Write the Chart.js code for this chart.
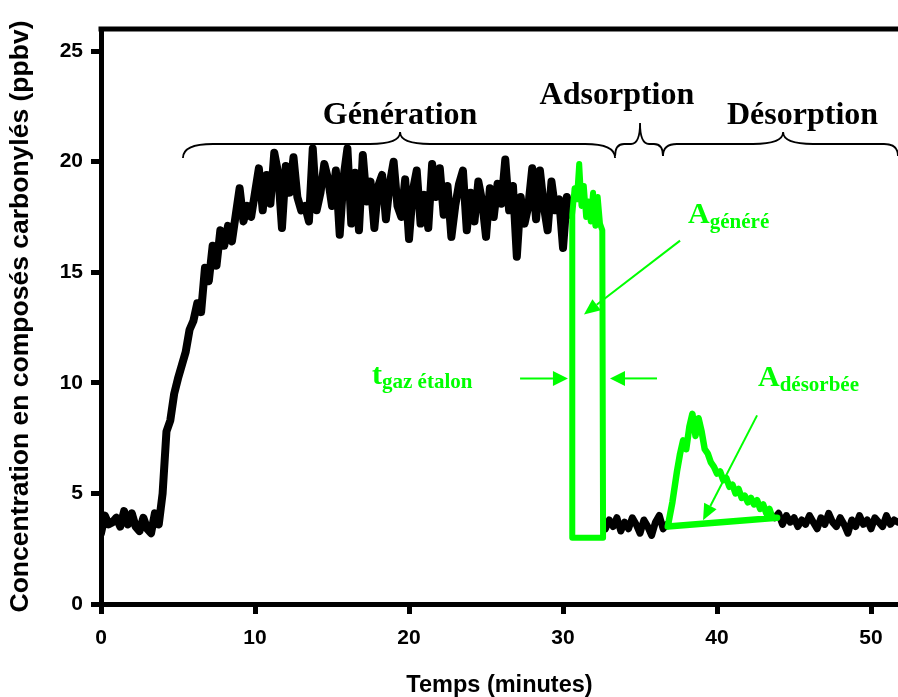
<!DOCTYPE html>
<html><head><meta charset="utf-8">
<script src="https://cdn.jsdelivr.net/npm/chart.js@4.4.1/dist/chart.umd.min.js"></script>
<style>html,body{margin:0;padding:0;background:#fff;overflow:hidden}</style>
</head><body>
<canvas id="c" width="898" height="697"></canvas>
<script>
// ---- data ----
const xTickValues = [0, 10, 20, 30, 40, 50];
const yTickValues = [0, 5, 10, 15, 20, 25];
const phaseNames = ['Génération', 'Adsorption', 'Désorption'];

// black trace, generation phase
const genTimes = [0,0.25,0.5,0.75,1,1.25,1.5,1.75,2,2.25,2.5,2.75,3,3.25,3.5,3.75,4,4.25,4.5,4.75,5,5.25,5.5,5.75,6,6.25,6.5,6.75,7,7.25,7.5,7.75,8,8.25,8.5,8.75,9,9.25,9.5,9.75,10,10.25,10.5,10.75,11,11.25,11.5,11.75,12,12.25,12.5,12.75,13,13.25,13.5,13.75,14,14.25,14.5,14.75,15,15.25,15.5,15.75,16,16.25,16.5,16.75,17,17.25,17.5,17.75,18,18.25,18.5,18.75,19,19.25,19.5,19.75,20,20.25,20.5,20.75,21,21.25,21.5,21.75,22,22.25,22.5,22.75,23,23.25,23.5,23.75,24,24.25,24.5,24.75,25,25.25,25.5,25.75,26,26.25,26.5,26.75,27,27.25,27.5,27.75,28,28.25,28.5,28.75,29,29.25,29.5,29.75,30,30.25,30.5];
const genValues = [3.2,4.0,3.6,3.7,3.9,3.5,4.2,3.6,4.1,3.5,3.3,3.9,3.4,3.2,4.1,3.6,5.0,7.8,8.3,9.5,10.2,10.8,11.4,12.4,12.8,13.6,13.2,15.2,14.6,16.2,15.3,16.9,16.2,17.1,16.4,17.6,18.8,17.3,18.0,17.5,18.6,19.7,17.8,19.4,18.1,20.4,19.5,17.0,19.8,18.6,20.2,18.4,17.8,18.0,17.3,20.6,17.8,18.6,19.9,19.2,18.0,19.6,16.7,19.3,20.6,17.2,19.5,16.9,20.3,18.2,19.1,17.0,18.9,19.4,17.4,19.0,20.0,18.0,17.5,19.2,16.5,18.7,19.6,17.2,18.5,17.0,19.9,18.4,19.7,17.6,18.9,16.6,18.0,19.0,19.6,16.9,18.6,17.3,19.1,18.2,16.6,18.8,17.5,19.0,18.1,20.1,17.8,18.9,15.7,18.4,17.2,18.0,19.7,17.4,19.6,18.0,16.9,19.1,17.8,18.3,16.1,18.4,17.6];

// black trace, between adsorption and desorption
const midTimes = [32.75,33,33.25,33.5,33.75,34,34.25,34.5,34.75,35,35.25,35.5,35.75,36,36.25,36.5,36.75];
const midValues = [3.4,3.8,3.5,3.9,3.3,3.7,3.4,3.9,3.6,3.2,3.8,3.5,3.1,3.7,4.0,3.4,3.6];

// black trace, after desorption
const endTimes = [43.75,44,44.25,44.5,44.75,45,45.25,45.5,45.75,46,46.25,46.5,46.75,47,47.25,47.5,47.75,48,48.25,48.5,48.75,49,49.25,49.5,49.75,50,50.25,50.5,50.75,51,51.25,51.5,51.75];
const endValues = [3.9,4.1,3.6,4.0,3.7,3.9,3.5,3.8,3.6,4.0,3.7,3.4,3.9,3.6,4.1,3.7,3.5,3.9,3.6,3.2,3.8,3.5,4.0,3.6,3.8,3.4,3.9,3.7,3.5,4.0,3.6,3.8,3.7];

// green: generated area (closed outline)
const genAreaTimes = [30.6,30.6,32.6,32.55,32.4,32.25,32.1,31.95,31.8,31.65,31.5,31.35,31.2,31.05,30.9,30.75,30.6];
const genAreaValues = [17.6,3.0,3.0,16.9,17.2,18.4,17.1,18.6,17.3,18.2,17.5,18.9,18.0,19.9,18.3,18.8,17.6];

// green: desorbed area (closed outline)
const desAreaTimes = [36.8,37.1,37.4,37.6,37.8,38.0,38.2,38.4,38.6,38.8,39.0,39.2,39.4,39.6,39.8,40.0,40.2,40.4,40.6,40.8,41.0,41.2,41.4,41.6,41.8,42.0,42.2,42.4,42.6,42.8,43.0,43.2,43.4,43.6,43.9,36.8];
const desAreaValues = [3.5,4.6,6.0,6.8,7.4,7.0,8.0,8.6,7.6,8.4,7.8,7.0,6.8,6.4,6.2,5.9,6.0,5.6,5.7,5.3,5.4,5.0,5.2,4.8,4.9,4.6,4.8,4.5,4.7,4.3,4.5,4.1,4.3,3.9,3.9,3.5];

const zip = (t, v) => t.map((x, i) => ({x: x, y: v[i]}));
const GREEN = 'rgb(0,255,0)';
const SERIF = '"Liberation Serif", "Times New Roman", serif';

function drawBrace(ctx, x1, x2, xm, yH, yEnd, yTip, r, rt) {
  ctx.beginPath();
  ctx.moveTo(x1, yEnd);
  ctx.quadraticCurveTo(x1, yH, x1 + r, yH);
  ctx.lineTo(xm - rt, yH);
  ctx.quadraticCurveTo(xm, yH, xm, yTip);
  ctx.quadraticCurveTo(xm, yH, xm + rt, yH);
  ctx.lineTo(x2 - r, yH);
  ctx.quadraticCurveTo(x2, yH, x2, yEnd);
  ctx.stroke();
}
function drawArrow(ctx, x1, y1, x2, y2, head, hw) {
  const a = Math.atan2(y2 - y1, x2 - x1), c = Math.cos(a), s = Math.sin(a);
  const bx = x2 - head * c, by = y2 - head * s;
  ctx.beginPath(); ctx.moveTo(x1, y1); ctx.lineTo(bx, by); ctx.stroke();
  ctx.beginPath(); ctx.moveTo(x2, y2);
  ctx.lineTo(bx + hw * s, by - hw * c);
  ctx.lineTo(bx - hw * s, by + hw * c);
  ctx.closePath(); ctx.fill();
}
function subLabel(ctx, px, py, main, sub, dy) {
  ctx.textAlign = 'left'; ctx.textBaseline = 'alphabetic';
  ctx.font = 'bold 30px ' + SERIF;
  ctx.fillText(main, px, py);
  const w = ctx.measureText(main).width;
  ctx.font = 'bold 21px ' + SERIF;
  ctx.fillText(sub, px + w, py + dy);
}

const overlay = {
  id: 'overlay',
  afterDraw(chart) {
    const {ctx, chartArea: a, scales: {x, y}} = chart;
    const X = v => x.getPixelForValue(v), Y = v => y.getPixelForValue(v);
    ctx.save();
    // top frame line
    ctx.strokeStyle = '#000'; ctx.lineWidth = 5;
    ctx.beginPath(); ctx.moveTo(a.left - 2.5, a.top); ctx.lineTo(a.right + 5, a.top); ctx.stroke();

    // braces
    ctx.lineWidth = 1.8;
    drawBrace(ctx, X(5.32), X(33.38), X(19.42), Y(20.8), Y(20.17), Y(21.34), 30, 30);
    drawBrace(ctx, X(33.38), X(36.49), X(35.0), Y(20.8), Y(20.26), Y(21.75), 9, 9);
    drawBrace(ctx, X(36.49), X(51.75), X(44.29), Y(20.8), Y(20.26), Y(21.34), 14, 30);

    // phase labels
    ctx.fillStyle = '#000';
    ctx.font = 'bold 32px ' + SERIF;
    ctx.textAlign = 'center'; ctx.textBaseline = 'alphabetic';
    ctx.fillText(phaseNames[0], X(19.42), Y(21.7));
    ctx.fillText(phaseNames[1], X(33.5), Y(22.62));
    ctx.fillText(phaseNames[2], X(45.55), Y(21.7));

    // green annotations
    ctx.fillStyle = GREEN; ctx.strokeStyle = GREEN; ctx.lineWidth = 2;
    drawArrow(ctx, X(37.6), Y(16.43), X(31.36), Y(13.09), 16, 7);
    drawArrow(ctx, X(42.6), Y(8.53), X(39.09), Y(3.79), 16, 7);
    drawArrow(ctx, X(27.21), Y(10.2), X(30.32), Y(10.2), 15, 7.5);
    drawArrow(ctx, X(36.1), Y(10.2), X(33.05), Y(10.2), 15, 7.5);

    subLabel(ctx, X(38.12), Y(17.24), 'A', 'généré', 5);
    subLabel(ctx, X(42.66), Y(9.88), 'A', 'désorbée', 5);
    subLabel(ctx, X(17.6), Y(9.97), 't', 'gaz étalon', 4);
    ctx.restore();
  }
};

Chart.defaults.font.family = '"Liberation Sans", Arial, sans-serif';
Chart.defaults.color = '#000';

new Chart(document.getElementById('c'), {
  type: 'scatter',
  data: {
    datasets: [
      {data: zip(genAreaTimes, genAreaValues), borderColor: GREEN, borderWidth: 6, order: 0},
      {data: zip(desAreaTimes, desAreaValues), borderColor: GREEN, borderWidth: 6.5, order: 0},
      {data: zip(genTimes, genValues), borderColor: '#000', borderWidth: 8, order: 1},
      {data: zip(midTimes, midValues), borderColor: '#000', borderWidth: 7, order: 1},
      {data: zip(endTimes, endValues), borderColor: '#000', borderWidth: 7, order: 1}
    ].map(d => Object.assign({showLine: true, pointRadius: 0, pointHoverRadius: 0, fill: false,
                              borderJoinStyle: 'round', borderCapStyle: 'round', tension: 0}, d))
  },
  options: {
    responsive: false,
    animation: false,
    events: [],
    layout: {padding: {top: 29, right: 0, left: 0, bottom: 0}},
    plugins: {legend: {display: false}, tooltip: {enabled: false}},
    scales: {
      x: {
        type: 'linear', min: 0, max: 51.75,
        afterBuildTicks: s => { s.ticks = xTickValues.map(v => ({value: v})); },
        afterFit: s => { s.height = 93; },
        grid: {display: true, drawOnChartArea: false, drawTicks: true, tickLength: 10, tickWidth: 5, tickColor: '#000'},
        border: {display: true, width: 5, color: '#000'},
        ticks: {color: '#000', font: {size: 21, weight: 'bold'}, padding: 12, maxRotation: 0, autoSkip: false},
        title: {display: true, text: 'Temps (minutes)', color: '#000', font: {size: 23.5, weight: 'bold', lineHeight: 1}, padding: 0}
      },
      y: {
        type: 'linear', min: 0, max: 26,
        afterBuildTicks: s => { s.ticks = yTickValues.map(v => ({value: v})); },
        afterFit: s => { s.width = 101; },
        grid: {display: true, drawOnChartArea: false, drawTicks: true, tickLength: 10, tickWidth: 5, tickColor: '#000'},
        border: {display: true, width: 5, color: '#000'},
        ticks: {color: '#000', font: {size: 21, weight: 'bold'}, padding: 8, autoSkip: false},
        title: {display: true, text: 'Concentration en composés carbonylés (ppbv)', color: '#000', font: {size: 26.5, weight: 'bold', lineHeight: 1.2}, padding: {top: 5, bottom: 0}}
      }
    }
  },
  plugins: [overlay]
});
</script>
</body></html>
